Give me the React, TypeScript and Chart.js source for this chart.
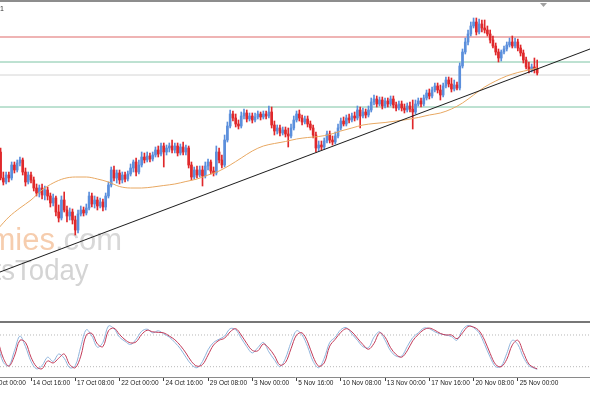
import { useEffect, useRef } from "react";
import { Chart, registerables } from "chart.js";

Chart.register(...registerables);

// H4 bars: bar 0 = 12 Oct 00:00, one tick label every 16 bars
const timeLabels = [
  "12 Oct 00:00", "14 Oct 16:00", "17 Oct 08:00", "22 Oct 00:00", "24 Oct 16:00",
  "29 Oct 08:00", "3 Nov 00:00", "5 Nov 16:00", "10 Nov 08:00", "13 Nov 00:00",
  "17 Nov 16:00", "20 Nov 08:00", "25 Nov 00:00",
];
const timeTickBars = [0, 16, 32, 48, 64, 80, 96, 112, 128, 144, 160, 176, 192];

const firstBar = 4;

const opens = [
  1.2840,1.2848,1.2822,1.2818,1.2825,1.2822,1.2835,1.2830,1.2837,1.2840,
  1.2828,1.2818,1.2825,1.2820,1.2812,1.2807,1.2812,1.2805,1.2810,1.2804,
  1.2797,1.2802,1.2788,1.2782,1.2800,1.2790,1.2784,1.2788,1.2780,1.2770,
  1.2786,1.2790,1.2787,1.2792,1.2804,1.2796,1.2800,1.2794,1.2798,1.2793,
  1.2804,1.2815,1.2830,1.2822,1.2827,1.2820,1.2825,1.2821,1.2826,1.2832,
  1.2838,1.2828,1.2835,1.2843,1.2840,1.2844,1.2841,1.2845,1.2850,1.2846,
  1.2854,1.2848,1.2852,1.2854,1.2850,1.2854,1.2847,1.2853,1.2848,1.2852,
  1.2835,1.2823,1.2830,1.2825,1.2830,1.2824,1.2834,1.2838,1.2829,1.2827,
  1.2848,1.2840,1.2835,1.2860,1.2874,1.2886,1.2882,1.2876,1.2874,1.2884,
  1.2887,1.2881,1.2884,1.2880,1.2883,1.2886,1.2883,1.2886,1.2884,1.2888,
  1.2875,1.2869,1.2872,1.2867,1.2870,1.2866,1.2864,1.2872,1.2880,1.2886,
  1.2882,1.2878,1.2881,1.2876,1.2872,1.2865,1.2852,1.2855,1.2853,1.2859,
  1.2866,1.2860,1.2858,1.2864,1.2872,1.2879,1.2876,1.2882,1.2880,1.2884,
  1.2882,1.2890,1.2884,1.2888,1.2885,1.2890,1.2898,1.2901,1.2896,1.2900,
  1.2894,1.2899,1.2896,1.2901,1.2895,1.2892,1.2896,1.2892,1.2890,1.2894,
  1.2891,1.2888,1.2896,1.2899,1.2896,1.2902,1.2907,1.2904,1.2910,1.2914,
  1.2910,1.2905,1.2914,1.2920,1.2916,1.2911,1.2915,1.2912,1.2934,1.2948,
  1.2958,1.2966,1.2974,1.2978,1.2968,1.2976,1.2972,1.2970,1.2966,1.2960,
  1.2954,1.2948,1.2942,1.2948,1.2951,1.2955,1.2958,1.2954,1.2958,1.2952,
  1.2947,1.2940,1.2933,1.2930,1.2933,1.2931,
];

const highs = [
  1.2852,1.2852,1.2828,1.2828,1.2828,1.2838,1.2838,1.2840,1.2843,1.2842,
  1.2832,1.2828,1.2828,1.2823,1.2816,1.2815,1.2816,1.2814,1.2813,1.2807,
  1.2806,1.2804,1.2795,1.2804,1.2808,1.2794,1.2792,1.2791,1.2784,1.2790,
  1.2794,1.2793,1.2796,1.2808,1.2807,1.2804,1.2803,1.2802,1.2801,1.2807,
  1.2818,1.2833,1.2834,1.2830,1.2830,1.2828,1.2828,1.2829,1.2836,1.2840,
  1.2842,1.2840,1.2848,1.2847,1.2848,1.2847,1.2848,1.2853,1.2854,1.2857,
  1.2857,1.2855,1.2857,1.2860,1.2857,1.2857,1.2856,1.2858,1.2855,1.2854,
  1.2838,1.2833,1.2834,1.2834,1.2834,1.2838,1.2841,1.2840,1.2833,1.2854,
  1.2852,1.2845,1.2865,1.2878,1.2890,1.2889,1.2886,1.2880,1.2888,1.2891,
  1.2890,1.2887,1.2887,1.2887,1.2889,1.2888,1.2889,1.2889,1.2894,1.2893,
  1.2879,1.2875,1.2875,1.2873,1.2873,1.2872,1.2876,1.2884,1.2889,1.2890,
  1.2885,1.2884,1.2884,1.2879,1.2875,1.2868,1.2859,1.2859,1.2862,1.2869,
  1.2869,1.2864,1.2868,1.2876,1.2882,1.2883,1.2885,1.2886,1.2887,1.2888,
  1.2894,1.2893,1.2892,1.2891,1.2894,1.2902,1.2905,1.2904,1.2903,1.2903,
  1.2902,1.2902,1.2904,1.2904,1.2898,1.2899,1.2899,1.2896,1.2897,1.2898,
  1.2900,1.2900,1.2902,1.2902,1.2905,1.2910,1.2911,1.2913,1.2917,1.2917,
  1.2915,1.2917,1.2923,1.2923,1.2922,1.2920,1.2918,1.2937,1.2951,1.2962,
  1.2970,1.2978,1.2982,1.2982,1.2981,1.2980,1.2980,1.2974,1.2970,1.2964,
  1.2957,1.2951,1.2950,1.2954,1.2958,1.2962,1.2964,1.2962,1.2961,1.2955,
  1.2950,1.2943,1.2938,1.2936,1.2942,1.2940,
];

const lows = [
  1.2835,1.2820,1.2815,1.2816,1.2818,1.2820,1.2827,1.2828,1.2834,1.2825,
  1.2814,1.2816,1.2817,1.2809,1.2804,1.2803,1.2801,1.2800,1.2800,1.2793,
  1.2794,1.2784,1.2778,1.2780,1.2788,1.2778,1.2780,1.2776,1.2765,1.2767,
  1.2784,1.2784,1.2785,1.2790,1.2793,1.2792,1.2790,1.2792,1.2789,1.2790,
  1.2802,1.2813,1.2819,1.2817,1.2816,1.2817,1.2818,1.2819,1.2824,1.2828,
  1.2824,1.2826,1.2833,1.2837,1.2838,1.2838,1.2839,1.2843,1.2843,1.2844,
  1.2833,1.2845,1.2848,1.2847,1.2847,1.2844,1.2845,1.2845,1.2845,1.2832,
  1.2820,1.2821,1.2822,1.2823,1.2814,1.2822,1.2830,1.2826,1.2824,1.2825,
  1.2837,1.2832,1.2833,1.2858,1.2872,1.2879,1.2873,1.2871,1.2872,1.2881,
  1.2878,1.2879,1.2877,1.2878,1.2881,1.2880,1.2881,1.2881,1.2882,1.2872,
  1.2865,1.2866,1.2864,1.2865,1.2863,1.2853,1.2862,1.2870,1.2878,1.2879,
  1.2875,1.2876,1.2873,1.2870,1.2862,1.2848,1.2849,1.2850,1.2851,1.2857,
  1.2857,1.2855,1.2856,1.2862,1.2870,1.2874,1.2874,1.2877,1.2878,1.2879,
  1.2880,1.2872,1.2882,1.2882,1.2883,1.2888,1.2895,1.2893,1.2894,1.2891,
  1.2892,1.2893,1.2894,1.2892,1.2889,1.2890,1.2889,1.2887,1.2888,1.2888,
  1.2871,1.2886,1.2894,1.2893,1.2894,1.2900,1.2901,1.2902,1.2908,1.2907,
  1.2900,1.2903,1.2912,1.2913,1.2908,1.2909,1.2910,1.2910,1.2932,1.2946,
  1.2955,1.2964,1.2972,1.2965,1.2966,1.2968,1.2967,1.2964,1.2957,1.2952,
  1.2945,1.2938,1.2939,1.2946,1.2949,1.2953,1.2952,1.2952,1.2949,1.2944,
  1.2937,1.2931,1.2927,1.2928,1.2927,1.2925,
];

const closes = [
  1.2848,1.2822,1.2818,1.2825,1.2822,1.2835,1.2830,1.2837,1.2840,1.2828,
  1.2818,1.2825,1.2820,1.2812,1.2807,1.2812,1.2805,1.2810,1.2804,1.2797,
  1.2802,1.2788,1.2782,1.2800,1.2790,1.2784,1.2788,1.2780,1.2770,1.2786,
  1.2790,1.2787,1.2792,1.2804,1.2796,1.2800,1.2794,1.2798,1.2793,1.2804,
  1.2815,1.2830,1.2822,1.2827,1.2820,1.2825,1.2821,1.2826,1.2832,1.2838,
  1.2828,1.2835,1.2843,1.2840,1.2844,1.2841,1.2845,1.2850,1.2846,1.2854,
  1.2848,1.2852,1.2854,1.2850,1.2854,1.2847,1.2853,1.2848,1.2852,1.2835,
  1.2823,1.2830,1.2825,1.2830,1.2824,1.2834,1.2838,1.2829,1.2827,1.2848,
  1.2840,1.2835,1.2860,1.2874,1.2886,1.2882,1.2876,1.2874,1.2884,1.2887,
  1.2881,1.2884,1.2880,1.2883,1.2886,1.2883,1.2886,1.2884,1.2888,1.2875,
  1.2869,1.2872,1.2867,1.2870,1.2866,1.2864,1.2872,1.2880,1.2886,1.2882,
  1.2878,1.2881,1.2876,1.2872,1.2865,1.2852,1.2855,1.2853,1.2859,1.2866,
  1.2860,1.2858,1.2864,1.2872,1.2879,1.2876,1.2882,1.2880,1.2884,1.2882,
  1.2890,1.2884,1.2888,1.2885,1.2890,1.2898,1.2901,1.2896,1.2900,1.2894,
  1.2899,1.2896,1.2901,1.2895,1.2892,1.2896,1.2892,1.2890,1.2894,1.2891,
  1.2888,1.2896,1.2899,1.2896,1.2902,1.2907,1.2904,1.2910,1.2914,1.2910,
  1.2905,1.2914,1.2920,1.2916,1.2911,1.2915,1.2912,1.2934,1.2948,1.2958,
  1.2966,1.2974,1.2978,1.2968,1.2976,1.2972,1.2970,1.2966,1.2960,1.2954,
  1.2948,1.2942,1.2948,1.2951,1.2955,1.2958,1.2954,1.2958,1.2952,1.2947,
  1.2940,1.2933,1.2930,1.2933,1.2931,1.2927,
];

// moving average (orange), sampled along the bars
const maBars = [
  4, 8, 12, 16, 20, 24, 28, 32, 36, 40, 44, 48, 52, 56, 60, 64, 68, 72, 76, 80,
  84, 88, 92, 96, 100, 104, 108, 112, 116, 120, 124, 128, 132, 136, 140, 144, 148, 152, 156, 160,
  164, 168, 172, 176, 180, 184, 188, 192, 196, 199,
];
const maValues = [
  1.2771,1.2783,1.2792,1.2800,1.2810,1.2817,1.28215,1.2823,1.2823,1.2821,
  1.2818,1.28135,1.2812,1.2812,1.2813,1.28145,1.2816,1.28185,1.2821,1.2825,
  1.2829,1.2835,1.2842,1.2849,1.2854,1.28565,1.28585,1.2861,1.28625,1.28635,
  1.28655,1.2869,1.2872,1.2875,1.28765,1.28775,1.2879,1.28805,1.28825,1.2885,
  1.2887,1.2891,1.2897,1.2905,1.2913,1.2919,1.2924,1.29275,1.2930,1.2932,
];

// horizontal levels and the rising trend line
const resistanceLevel = 1.2963;
const upperSupportLevel = 1.2938;
const pivotLevel = 1.2925;
const lowerSupportLevel = 1.2893;
const trendBars = [0, 220];
const trendValues = [1.2723, 1.2953];

// stochastic oscillator
const stochBars = [
  4,6,8,10,12,14,16,18,20,22,24,26,28,30,32,34,36,38,40,42,
  44,46,48,50,52,54,56,58,60,62,64,66,68,70,72,74,76,78,80,82,
  84,86,88,90,92,94,96,98,100,102,104,106,108,110,112,114,116,118,120,122,
  124,126,128,130,132,134,136,138,140,142,144,146,148,150,152,154,156,158,160,162,
  164,166,168,170,172,174,176,178,180,182,184,186,188,190,192,194,196,198,199,
];
const stochMain = [
  62,28,22,50,78,58,30,16,22,38,
  30,44,36,18,22,58,90,78,57,66,
  97,92,76,68,62,72,87,91,84,88,
  82,76,66,54,38,24,18,30,52,66,
  72,78,92,90,74,58,46,56,66,48,
  33,20,36,66,88,80,58,30,18,36,
  66,76,90,94,82,70,58,56,76,86,
  70,50,40,40,58,75,84,93,92,86,
  82,80,77,70,90,98,94,84,62,38,
  20,21,45,70,62,38,22,17,15,
];
const stochSignal = [
  70,36,21,40,70,66,38,20,16,31,
  27,36,44,24,18,40,80,83,63,58,
  88,93,81,71,65,67,81,89,86,85,
  84,78,71,60,46,30,21,24,42,61,
  70,74,86,92,80,64,51,50,63,55,
  41,23,28,54,80,84,67,39,21,27,
  59,72,85,92,86,74,62,53,64,84,
  76,56,43,38,50,69,81,90,93,89,
  83,80,80,73,84,96,95,88,70,45,
  24,20,34,61,70,47,25,18,16,
];
const stochLevels = [80, 20];

const X_MIN = 4.79;
const X_MAX = 218.09;
const Y_MIN = 1.2679;
const Y_MAX = 1.2998;

const UP = "#5b8fdc";
const DOWN = "#e0282b";
const FONT = '"Liberation Sans", Arial, sans-serif';

export default function App() {
  const mainRef = useRef<HTMLCanvasElement>(null);
  const stochRef = useRef<HTMLCanvasElement>(null);

  useEffect(() => {
    const bars = opens.map((_, k) => firstBar + k);
    const colors = bars.map((_, k) => (closes[k] >= opens[k] ? UP : DOWN));
    const hline = (v: number, color: string, order: number, width = 1) => ({
      type: "line" as const,
      data: [{ x: X_MIN, y: v }, { x: X_MAX, y: v }],
      borderColor: color,
      borderWidth: width,
      pointRadius: 0,
      order,
    });

    const decor = {
      id: "decor",
      beforeDatasetsDraw(chart: any) {
        const ctx = chart.ctx;
        ctx.save();
        ctx.textBaseline = "alphabetic";
        ctx.font = `31px ${FONT}`;
        ctx.textAlign = "right";
        ctx.fillStyle = "#f6cdae";
        ctx.fillText("economies", 55, 248);
        ctx.textAlign = "left";
        ctx.fillStyle = "#d8d8d8";
        ctx.fillText(".com", 55, 248);
        ctx.translate(15, 278);
        ctx.scale(0.92, 1);
        ctx.font = `30px ${FONT}`;
        ctx.fillStyle = "#d4d4d4";
        ctx.textAlign = "right";
        ctx.fillText("Markets", 0, 0);
        ctx.textAlign = "left";
        ctx.fillText("Today", 0, 0);
        ctx.restore();
      },
      afterDraw(chart: any) {
        const ctx = chart.ctx;
        ctx.save();
        ctx.font = `7px ${FONT}`;
        ctx.fillStyle = "#333";
        ctx.textAlign = "left";
        ctx.fillText("1", 0, 9);
        ctx.fillStyle = "#a0a0a0";
        ctx.beginPath();
        ctx.moveTo(540, 1);
        ctx.lineTo(547, 1);
        ctx.lineTo(543.5, 5);
        ctx.closePath();
        ctx.fill();
        ctx.restore();
      },
    };

    const main = new Chart(mainRef.current!, {
      type: "bar",
      data: {
        datasets: [
          hline(resistanceLevel, "#e06a6a", 5, 1.2),
          hline(upperSupportLevel, "#7cc4a4", 5),
          hline(pivotLevel, "#d4d4d4", 5),
          hline(lowerSupportLevel, "#7cc4a4", 5),
          {
            type: "bar",
            data: bars.map((b, k) => ({ x: b, y: [lows[k], highs[k]] })),
            backgroundColor: colors,
            barThickness: 1,
            grouped: false,
            borderWidth: 0,
            order: 3,
          } as any,
          {
            type: "bar",
            data: bars.map((b, k) => ({ x: b, y: [opens[k], closes[k]] })),
            backgroundColor: colors,
            barThickness: 2,
            grouped: false,
            borderWidth: 0,
            order: 2,
          } as any,
          {
            type: "line",
            data: maBars.map((b, k) => ({ x: b, y: maValues[k] })),
            borderColor: "#e8a862",
            borderWidth: 1,
            pointRadius: 0,
            cubicInterpolationMode: "monotone",
            order: 1,
          } as any,
          {
            type: "line",
            data: trendBars.map((b, k) => ({ x: b, y: trendValues[k] })),
            borderColor: "#1a1a1a",
            borderWidth: 1.1,
            pointRadius: 0,
            order: 0,
          } as any,
        ],
      },
      options: {
        animation: false,
        responsive: false,
        devicePixelRatio: 1,
        events: [],
        layout: { padding: 0, autoPadding: false } as any,
        plugins: { legend: { display: false }, tooltip: { enabled: false } },
        scales: {
          x: { type: "linear", min: X_MIN, max: X_MAX, display: false, offset: false },
          y: { type: "linear", min: Y_MIN, max: Y_MAX, display: false },
        },
      },
      plugins: [decor],
    });

    const stoch = new Chart(stochRef.current!, {
      type: "line",
      data: {
        datasets: [
          ...stochLevels.map((lv) => ({
            data: [{ x: X_MIN, y: lv }, { x: X_MAX, y: lv }],
            borderColor: "#b8b8b8",
            borderWidth: 1,
            borderDash: [1, 2],
            pointRadius: 0,
            order: 3,
          })),
          {
            data: stochBars.map((b, k) => ({ x: b, y: stochMain[k] })),
            borderColor: "#8fb4dc",
            borderWidth: 1,
            pointRadius: 0,
            tension: 0.35,
            order: 2,
          },
          {
            data: stochBars.map((b, k) => ({ x: b, y: stochSignal[k] })),
            borderColor: "#c23a58",
            borderWidth: 1,
            pointRadius: 0,
            tension: 0.35,
            order: 1,
          },
        ],
      },
      options: {
        animation: false,
        responsive: false,
        devicePixelRatio: 1,
        events: [],
        layout: { padding: 0, autoPadding: false } as any,
        plugins: { legend: { display: false }, tooltip: { enabled: false } },
        scales: {
          x: {
            type: "linear",
            min: X_MIN,
            max: X_MAX,
            offset: false,
            afterBuildTicks: (s: any) => {
              s.ticks = timeTickBars.map((v) => ({ value: v }));
            },
            afterFit: (s: any) => {
              s.height = 16;
              s.paddingLeft = 0;
              s.paddingRight = 0;
            },
            ticks: {
              autoSkip: false,
              maxRotation: 0,
              minRotation: 0,
              align: "start",
              padding: -2,
              color: "#222",
              font: { family: FONT, size: 6.5 },
              callback: (v: any) => {
                const idx = timeTickBars.indexOf(Number(v));
                return idx >= 0 ? " " + timeLabels[idx] : "";
              },
            },
            grid: {
              display: true,
              drawOnChartArea: false,
              drawTicks: true,
              tickLength: 4,
              tickColor: "#444",
              color: "#444",
            },
            border: { display: true, color: "#8a8a8a", width: 1 },
          } as any,
          y: { type: "linear", min: 0.5, max: 102.7, display: false },
        },
      },
    });

    return () => {
      main.destroy();
      stoch.destroy();
    };
  }, []);

  return (
    <div
      style={{
        position: "absolute",
        left: 0,
        top: 0,
        width: 590,
        height: 393,
        background: "#fff",
        overflow: "hidden",
      }}
    >
      <div style={{ borderTop: "2px solid #8d8d8d", height: 319 }}>
        <canvas ref={mainRef} width={590} height={319} style={{ display: "block" }} />
      </div>
      <div style={{ borderTop: "2px solid #777", height: 70 }}>
        <canvas ref={stochRef} width={590} height={70} style={{ display: "block" }} />
      </div>
    </div>
  );
}
